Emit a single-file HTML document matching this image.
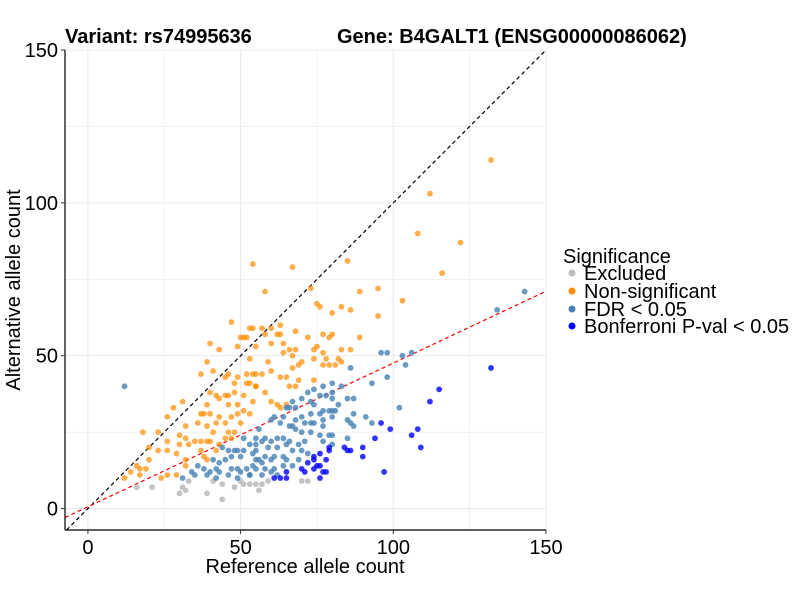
<!DOCTYPE html>
<html><head><meta charset="utf-8"><style>
body{margin:0;background:#fff;}
svg{display:block;font-family:"Liberation Sans",Arial,sans-serif;}
</style></head><body>
<svg id="chart" width="800" height="600">
<g id="grid"></g>
<g id="lines"></g>
<g id="points"></g>
<g id="axes"></g>
<text x="65" y="43" font-size="20" font-weight="bold">Variant: rs74995636</text>
<text x="337" y="43" font-size="20" font-weight="bold">Gene: B4GALT1 (ENSG00000086062)</text>
<text x="305" y="573" font-size="20" text-anchor="middle">Reference allele count</text>
<text transform="translate(20,290) rotate(-90)" font-size="20" text-anchor="middle">Alternative allele count</text>
<g>
<text x="563" y="263" font-size="20">Significance</text>
<g><circle cx="572" cy="273" r="3.5" fill="#bebebe"/><text x="584" y="280" font-size="20">Excluded</text></g>
<g><circle cx="572" cy="291" r="3.5" fill="#ff8c00"/><text x="584" y="298" font-size="20">Non-significant</text></g>
<g><circle cx="572" cy="309" r="3.5" fill="#4682b4"/><text x="584" y="316" font-size="20">FDR &lt; 0.05</text></g>
<g><circle cx="572" cy="326" r="3.5" fill="#0000ff"/><text x="584" y="333" font-size="20">Bonferroni P-val &lt; 0.05</text></g>
</g>
</svg>
<script>
const excluded=[[30,5],[31,7],[39,5],[44,3],[48,7],[51,8],[56,6],[57,8],[70,9],[72,9],[33,9],[21,7],[16,7],[32,6],[41,9],[44,8],[50,9],[53,8],[55,8],[59,9]];
const nonsig=[[54,80],[47,61],[53,59],[54,59],[50,56],[51,56],[52,56],[40,54],[43,52],[49,53],[55,53],[53,49],[39,48],[41,45],[37,44],[46,44],[45,43],[49,43],[52,44],[54,44],[55,44],[48,41],[52,41],[53,41],[55,40],[40,38],[42,37],[43,36],[45,37],[46,37],[48,38],[51,37],[31,35],[39,34],[46,34],[49,34],[54,35],[37,31],[38,31],[40,31],[43,30],[47,30],[49,31],[51,32],[53,31],[36,28],[39,27],[42,28],[45,28],[50,28],[32,27],[41,25],[46,25],[30,24],[26,22],[30,21],[32,23],[33,21],[35,22],[37,22],[39,22],[40,22],[23,19],[26,19],[29,18],[37,19],[38,17],[20,16],[32,16],[17,13],[19,13],[17,11],[24,10],[26,11],[29,11],[32,14],[39,16],[42,19],[43,21],[47,23],[48,25],[45,23],[18,25],[20,20],[23,25],[16,14],[14,12],[12,10],[26,30],[28,33],
[67,79],[85,81],[58,71],[89,71],[95,72],[103,68],[95,63],[75,67],[76,66],[80,64],[83,66],[86,65],[73,72],[57,59],[60,59],[63,60],[58,57],[62,57],[63,57],[68,58],[72,56],[77,57],[79,56],[80,57],[89,56],[60,54],[64,54],[66,52],[68,52],[74,52],[75,53],[83,52],[86,52],[64,51],[67,50],[77,51],[59,48],[70,48],[69,47],[74,49],[78,49],[79,47],[77,47],[81,47],[82,49],[83,48],[67,46],[57,44],[60,45],[63,43],[65,43],[69,42],[74,42],[55,40],[66,40],[68,40],[58,38],[60,35],[62,34],[65,34],[63,33],[108,90],[112,103],[132,114],[122,87],[116,77]];
const fdr=[[12,40],[31,10],[35,11],[46,19],[48,19],[49,19],[50,17],[51,19],[53,21],[55,23],[56,26],[41,16],[43,15],[45,16],[38,13],[40,12],[42,13],[43,12],[47,13],[49,13],[50,12],[52,13],[54,14],[56,16],[46,11],[49,10],[53,11],[39,11],[42,10],[51,23],[54,18],[55,19],
[96,51],[98,51],[103,50],[104,47],[86,46],[98,43],[93,41],[83,40],[80,41],[77,40],[74,39],[72,38],[70,36],[76,37],[78,37],[80,38],[80,36],[82,34],[85,36],[87,36],[87,31],[91,30],[93,28],[102,33],[85,29],[86,28],[87,27],[67,35],[65,33],[66,33],[68,33],[73,35],[74,34],[76,31],[77,32],[79,32],[80,32],[81,32],[80,30],[77,29],[77,27],[73,31],[70,30],[68,29],[64,30],[61,30],[60,29],[63,28],[66,27],[67,27],[71,28],[73,28],[74,28],[68,26],[70,25],[73,25],[76,24],[79,24],[80,24],[80,21],[85,23],[77,22],[71,22],[69,21],[66,22],[64,23],[62,23],[60,22],[58,23],[55,21],[57,22],[59,20],[62,20],[65,21],[67,19],[70,19],[72,18],[64,17],[61,17],[58,17],[55,16],[57,15],[60,16],[64,14],[67,14],[61,13],[58,13],[55,13],[53,11],[65,16],[69,16],[143,71],[134,65],[106,51],[44,20],[47,17],[36,14],[34,12],[62,11],[57,11],[60,12]];
const bonf=[[96,28],[99,26],[108,26],[94,23],[109,20],[90,20],[84,20],[85,19],[86,19],[90,17],[79,20],[79,19],[76,18],[78,16],[74,17],[74,16],[72,15],[75,14],[76,14],[74,13],[70,13],[71,12],[77,12],[78,12],[76,10],[65,12],[63,10],[61,10],[65,10],[97,12],[115,39],[112,35],[106,24],[132,46]];
const xTicks=[0,50,100,150];
const yTicks=[0,50,100,150];
const regSlope=0.47, regIntercept=0.6;

const X0=65,X1=546,Y0=530,Y1=50;
const xmin=-7.5,xmax=150,ymin=-7,ymax=150;
const sx=v=>X0+(v-xmin)/(xmax-xmin)*(X1-X0);
const sy=v=>Y0-(v-ymin)/(ymax-ymin)*(Y0-Y1);
const NS='http://www.w3.org/2000/svg';
function mk(tag,attrs,parent){const e=document.createElementNS(NS,tag);for(const k in attrs)e.setAttribute(k,attrs[k]);parent.appendChild(e);return e;}
const grid=document.getElementById('grid'),lines=document.getElementById('lines'),pts=document.getElementById('points'),axes=document.getElementById('axes');
for(let v=0;v<=150;v+=25){
  const gx=mk('line',{x1:sx(v),x2:sx(v),y1:Y1,y2:Y0,stroke:'#ebebeb','stroke-width':v%50?0.6:1.1},grid);
  
  
  const gy=mk('line',{x1:X0,x2:X1,y1:sy(v),y2:sy(v),stroke:'#ebebeb','stroke-width':v%50?0.6:1.1},grid);
  
  
}
const d1=mk('line',{x1:sx(-7),y1:sy(-7),x2:sx(150),y2:sy(150),stroke:'#000','stroke-width':1.2,'stroke-dasharray':'4,3'},lines);


const d2=mk('line',{x1:sx(xmin),y1:sy(regIntercept+regSlope*xmin),x2:sx(xmax),y2:sy(regIntercept+regSlope*xmax),stroke:'#ff0000','stroke-width':1.2,'stroke-dasharray':'4,3'},lines);


function draw(arr,col,op,name){arr.forEach(p=>{const c=mk('circle',{cx:sx(p[0]),cy:sy(p[1]),r:2.9,fill:col,'fill-opacity':op},pts);
  
  });}
draw(excluded,'#bebebe',0.9,'point-excluded');
draw(nonsig,'#ff8c00',0.7,'point-non-significant');
draw(fdr,'#4682b4',0.8,'point-fdr');
draw(bonf,'#0000ff',0.8,'point-bonferroni');
const ax=mk('line',{x1:X0,x2:X0,y1:Y1,y2:Y0,stroke:'#000','stroke-width':1.2},axes);


const bx=mk('line',{x1:X0,x2:X1,y1:Y0,y2:Y0,stroke:'#000','stroke-width':1.2},axes);


xTicks.forEach(v=>{mk('line',{x1:sx(v),x2:sx(v),y1:Y0,y2:Y0+4,stroke:'#333'},axes);
  const t=mk('text',{x:sx(v),y:Y0+24,'font-size':20,'text-anchor':'middle'},axes);t.textContent=v;
  
  });
yTicks.forEach(v=>{mk('line',{x1:X0-4,x2:X0,y1:sy(v),y2:sy(v),stroke:'#333'},axes);
  const t=mk('text',{x:X0-7,y:sy(v)+7,'font-size':20,'text-anchor':'end'},axes);t.textContent=v;
  
  });
</script>
</body></html>
